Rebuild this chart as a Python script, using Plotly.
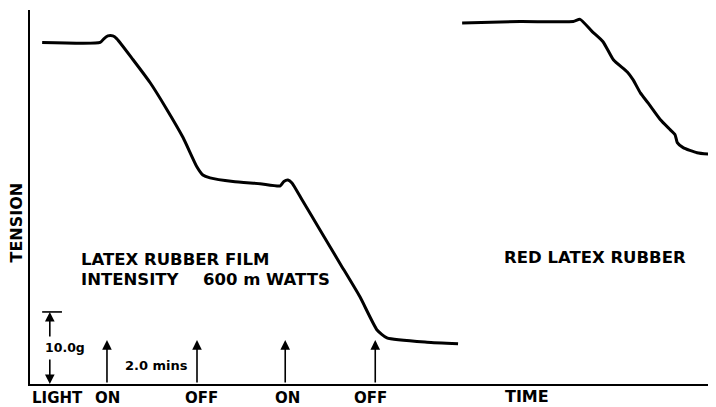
import plotly.graph_objects as go

# Latex rubber film trace (time in minutes, tension in grams)
film_time = [0.27, 1.56, 1.64, 1.73, 1.84, 1.93, 2.29, 2.67, 3.04, 3.40, 3.71, 3.84, 4.00,
             4.51, 5.11, 5.56, 5.64, 5.73, 5.82, 6.04, 6.44, 6.89, 7.33, 7.71, 7.93, 8.82, 9.51]
film_tension = [47.4, 47.4, 47.9, 48.3, 48.3, 47.9, 45.0, 41.8, 38.1, 34.2, 30.1, 29.0, 28.6,
                28.1, 27.8, 27.5, 28.1, 28.3, 27.9, 25.6, 21.4, 16.7, 12.1, 7.5, 6.4, 5.8, 5.6]

# Red latex rubber trace
red_time = [9.60, 10.89, 12.07, 12.22, 12.49, 12.73, 12.96, 13.27, 13.40, 13.56, 13.73,
            14.00, 14.22, 14.33, 14.38, 14.51, 14.82, 15.22]
red_tension = [50.1, 50.3, 50.3, 50.6, 48.9, 47.5, 45.0, 43.3, 42.2, 40.4, 39.0,
               36.7, 35.3, 34.6, 33.5, 32.8, 32.1, 31.8]

# Light switching events
light_times = [1.71, 3.71, 5.67, 7.67]
light_labels = ["ON", "OFF", "ON", "OFF"]
light_label_times = [1.73, 3.82, 5.71, 7.56]

scale_tension = 10.0   # grams
scale_minutes = 2.0

X_MAX = 15.24
Y_MAX = 51.9

FONT = "DejaVu Sans"
BLACK = "#000000"


def px(t):
    return t / X_MAX


def py(g):
    return g / Y_MAX


fig = go.Figure()
for xs, ys in ((film_time, film_tension), (red_time, red_tension)):
    fig.add_trace(go.Scatter(x=xs, y=ys, mode="lines",
                             line=dict(color=BLACK, width=3, shape="spline", smoothing=0.5),
                             hoverinfo="skip", showlegend=False))

ann = []
arrow_h = 6.1
for t, lab, lt in zip(light_times, light_labels, light_label_times):
    ann.append(dict(x=t, y=arrow_h, ax=t, ay=0, xref="x", yref="y", axref="x", ayref="y",
                    text="", showarrow=True, arrowhead=2, arrowsize=1.2, arrowwidth=1.6,
                    arrowcolor=BLACK))
    ann.append(dict(x=px(lt), y=py(-1.95), xref="paper", yref="paper", text="<b>%s</b>" % lab,
                    showarrow=False, font=dict(family=FONT, size=15, color=BLACK),
                    xanchor="center", yanchor="middle"))
ann.append(dict(x=px(0.0), y=py(-1.95), xref="paper", yref="paper", text="<b>LIGHT</b>",
                showarrow=False, font=dict(family=FONT, size=15, color=BLACK),
                xanchor="left", yanchor="middle"))
ann.append(dict(x=px(11.04), y=py(-3.2), xref="paper", yref="paper", text="<b>TIME</b>",
                showarrow=False, font=dict(family=FONT, size=16, color=BLACK),
                xanchor="center", yanchor="bottom", borderpad=0))

# 10.0 g scale bar
sx = 0.44
ann.append(dict(x=sx, y=scale_tension, ax=sx, ay=6.4, xref="x", yref="y", axref="x", ayref="y",
                text="", showarrow=True, arrowhead=2, arrowsize=1.2, arrowwidth=1.6,
                arrowcolor=BLACK))
ann.append(dict(x=sx, y=0, ax=sx, ay=3.6, xref="x", yref="y", axref="x", ayref="y",
                text="", showarrow=True, arrowhead=2, arrowsize=1.2, arrowwidth=1.6,
                arrowcolor=BLACK))
ann.append(dict(x=0.28, y=5.0, xref="x", yref="y", text="<b>%.1fg</b>" % scale_tension,
                showarrow=False, font=dict(family=FONT, size=12.5, color=BLACK),
                xanchor="left", yanchor="middle"))
ann.append(dict(x=2.81, y=2.5, xref="x", yref="y", text="<b>%.1f mins</b>" % scale_minutes,
                showarrow=False, font=dict(family=FONT, size=13, color=BLACK),
                xanchor="center", yanchor="middle"))

label_font = dict(family=FONT, size=16.5, color=BLACK)
ann.append(dict(x=1.11, y=17.3, xref="x", yref="y", text="<b>LATEX RUBBER FILM</b>",
                showarrow=False, font=label_font, xanchor="left", yanchor="middle",
                borderpad=0))
ann.append(dict(x=1.11, y=14.5, xref="x", yref="y", text="<b>INTENSITY</b>",
                showarrow=False, font=label_font, xanchor="left", yanchor="middle",
                borderpad=0))
ann.append(dict(x=3.82, y=14.5, xref="x", yref="y", text="<b>600 m WATTS</b>",
                showarrow=False, font=label_font, xanchor="left", yanchor="middle",
                borderpad=0))
ann.append(dict(x=10.49, y=17.5, xref="x", yref="y", text="<b>RED LATEX RUBBER</b>",
                showarrow=False, font=label_font, xanchor="left", yanchor="middle"))
ann.append(dict(x=px(-0.29), y=py(22.4), xref="paper", yref="paper", text="<b>TENSION</b>",
                textangle=-90, showarrow=False, font=dict(family=FONT, size=16, color=BLACK),
                xanchor="center", yanchor="middle"))

fig.update_layout(
    width=708, height=399, autosize=False,
    margin=dict(l=22, r=0, t=2, b=23),
    paper_bgcolor="white", plot_bgcolor="white",
    annotations=ann,
    shapes=[dict(type="line", xref="x", yref="y", x0=0.27, x1=0.71,
                 y0=scale_tension, y1=scale_tension, line=dict(color=BLACK, width=1.6))],
    xaxis=dict(range=[0, X_MAX], showgrid=False, zeroline=False, showticklabels=False,
               ticks="", showline=True, linecolor=BLACK, linewidth=2, fixedrange=True),
    yaxis=dict(range=[0, Y_MAX], showgrid=False, zeroline=False, showticklabels=False,
               ticks="", showline=True, linecolor=BLACK, linewidth=2, fixedrange=True),
)

fig.write_html("out.html", config={"displayModeBar": False})
